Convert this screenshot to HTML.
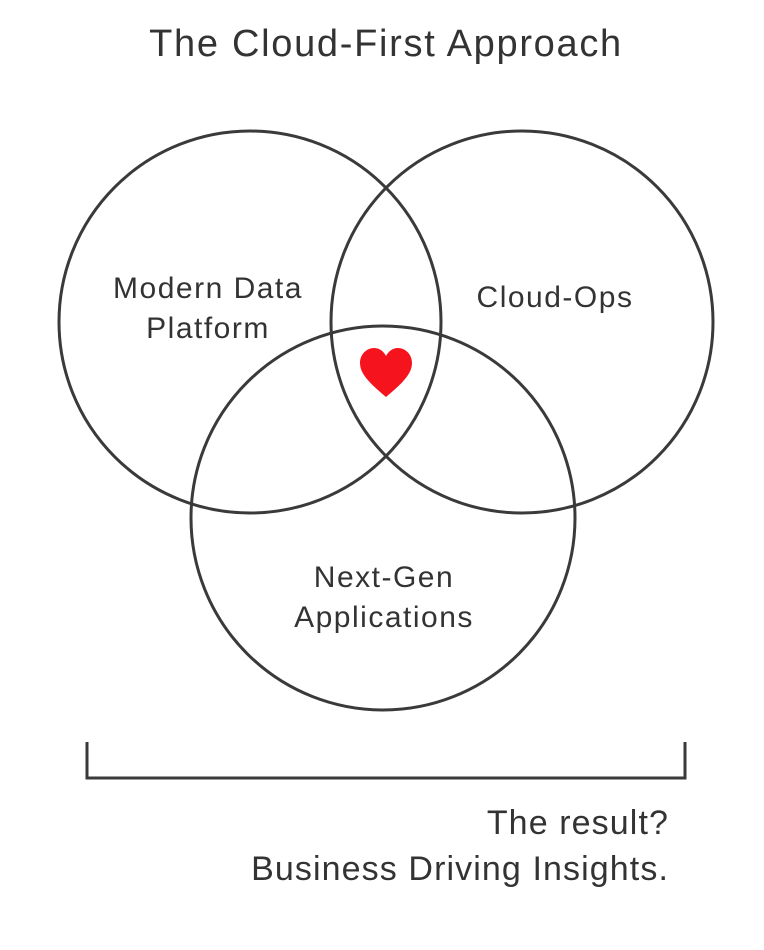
<!DOCTYPE html>
<html><head><meta charset="utf-8"><style>
html,body{margin:0;padding:0;background:#fff;}
</style></head><body>
<svg width="764" height="950" viewBox="0 0 764 950" xmlns="http://www.w3.org/2000/svg" style="display:block">
<g font-family="Liberation Sans, sans-serif" fill="#333">
<text x="386" y="56" font-size="38" letter-spacing="1.7" text-anchor="middle">The Cloud-First Approach</text>
</g>
<g fill="none" stroke="#3a3a3a" stroke-width="3">
<circle cx="250" cy="322" r="191"/>
<circle cx="522" cy="322" r="191"/>
<circle cx="383" cy="518" r="192"/>
<path d="M87 742 V778 H685 V742"/>
</g>
<path d="M386 397 C372 385 360 375 360 363 C360 354 367 348 374 348 C380 348 384 352 386 356 C388 352 392 348 398 348 C405 348 412 354 412 363 C412 375 400 385 386 397 Z" fill="#f5141e"/>
<g font-family="Liberation Sans, sans-serif" fill="#333" font-size="30" letter-spacing="1.5" text-anchor="middle">
<text x="208" y="298">Modern Data</text>
<text x="208" y="338">Platform</text>
<text x="555" y="307">Cloud-Ops</text>
<text x="384" y="587">Next-Gen</text>
<text x="384" y="627">Applications</text>
</g>
<g font-family="Liberation Sans, sans-serif" fill="#333" font-size="34" letter-spacing="1.1" text-anchor="end">
<text x="669" y="834">The result?</text>
<text x="669" y="880">Business Driving Insights.</text>
</g>
</svg>
</body></html>
